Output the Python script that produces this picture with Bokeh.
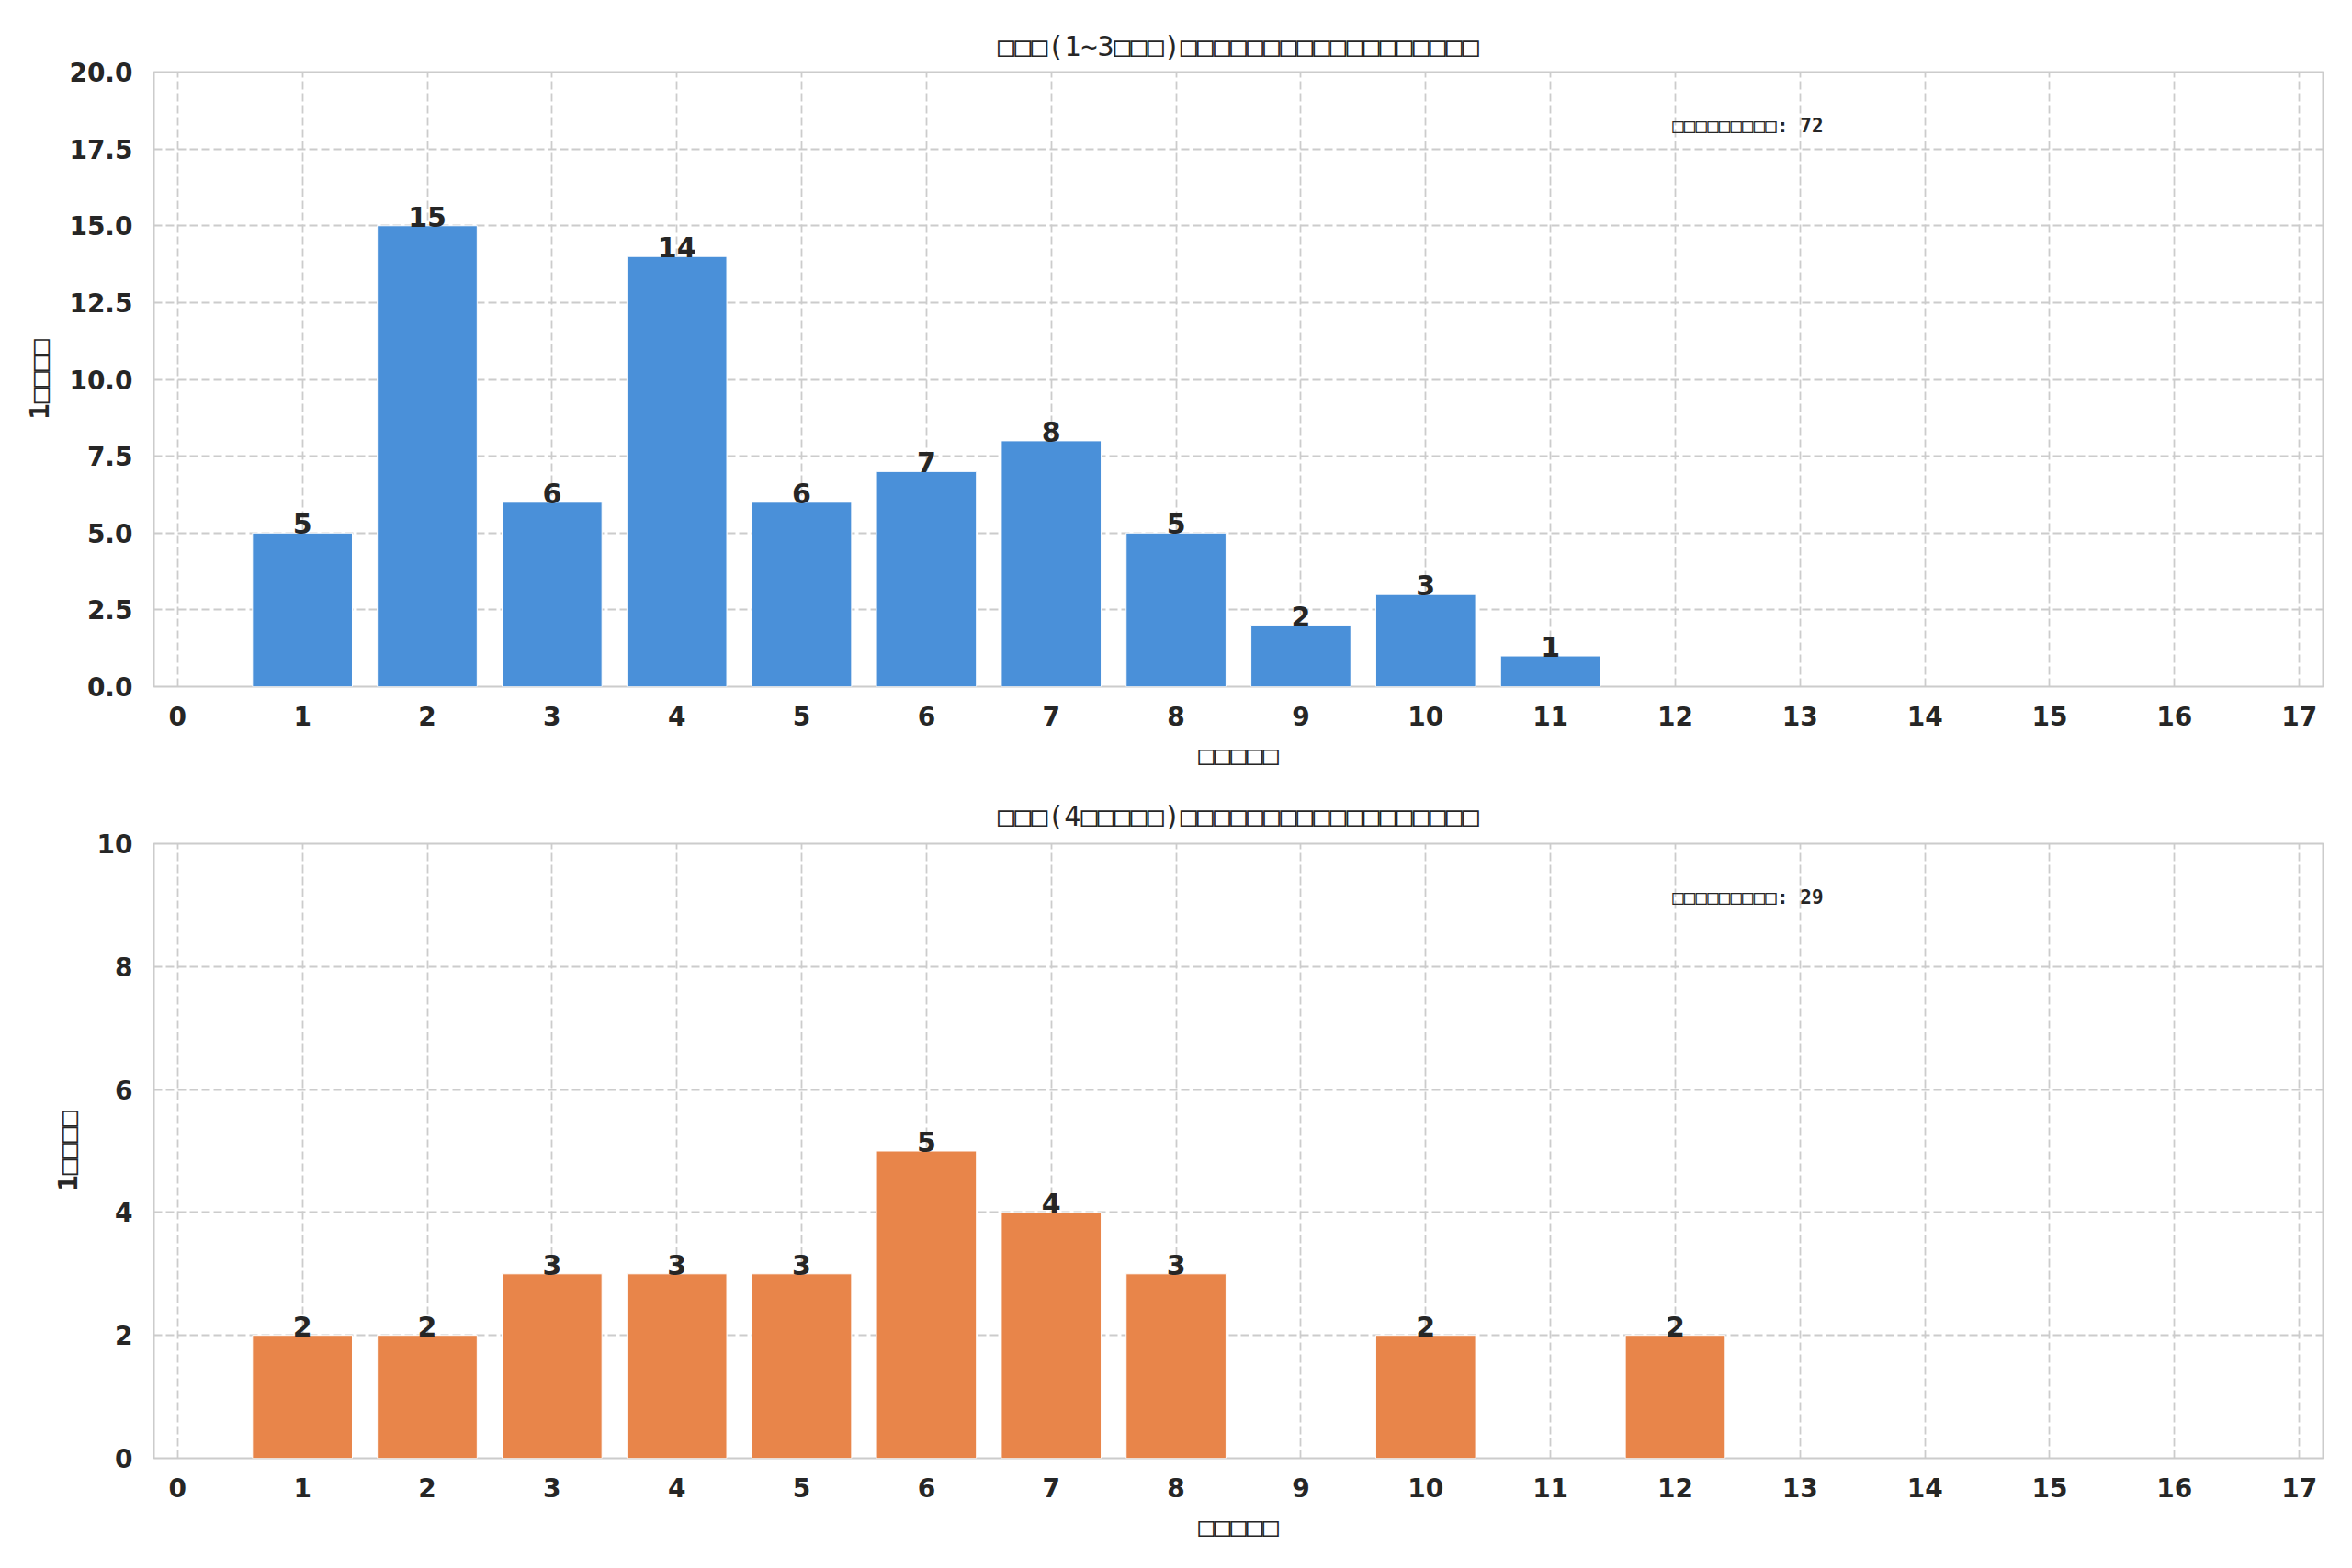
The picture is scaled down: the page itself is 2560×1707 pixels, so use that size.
from bokeh.plotting import figure
from bokeh.layouts import column
from bokeh.models import Range1d, FixedTicker, NumeralTickFormatter, Label, ColumnDataSource
from bokeh.core.properties import value
from bokeh.embed import file_html
from bokeh.resources import INLINE

# ---- data ----
x_ticks = list(range(0, 18))

early_x = [1, 2, 3, 4, 5, 6, 7, 8, 9, 10, 11]
early_counts = [5, 15, 6, 14, 6, 7, 8, 5, 2, 3, 1]
early_yticks = [0, 2.5, 5, 7.5, 10, 12.5, 15, 17.5, 20]
early_title = "□□□(1~3□□□)□□□□□□□□□□□□□□□□□□"

late_x = [1, 2, 3, 4, 5, 6, 7, 8, 10, 12]
late_counts = [2, 2, 3, 3, 3, 5, 4, 3, 2, 2]
late_yticks = [0, 2, 4, 6, 8, 10]
late_title = "□□□(4□□□□□)□□□□□□□□□□□□□□□□□□"

x_label = "□□□□□"
y_label = "1□□□□"
total_label = "□□□□□□□□□: "

TEXT = "#262626"
GRID = "#cccccc"
XMIN, XMAX = -0.19, 17.19
BOX_FONT = "DejaVu Sans Mono"


def make_panel(xs, counts, yticks, ymax, title, color, yfmt, top_border, bottom_border, title_standoff):
    p = figure(width=2552, height=top_border + 669 + bottom_border,
               x_range=Range1d(XMIN, XMAX), y_range=Range1d(0, ymax),
               output_backend="svg", toolbar_location=None,
               min_border_left=167, min_border_right=24,
               min_border_top=top_border, min_border_bottom=bottom_border)
    p.background_fill_color = "white"
    p.border_fill_color = "white"
    p.outline_line_color = GRID
    p.outline_line_width = 2

    p.title.text = title
    p.title.align = "center"
    p.title.text_font = BOX_FONT
    p.title.text_font_size = "30px"
    p.title.text_font_style = "normal"
    p.title.text_color = TEXT
    p.title.standoff = title_standoff

    p.xaxis.ticker = FixedTicker(ticks=x_ticks)
    p.yaxis.ticker = FixedTicker(ticks=yticks)
    p.yaxis.formatter = NumeralTickFormatter(format=yfmt)

    for ax in (p.xaxis, p.yaxis):
        ax.axis_line_color = None
        ax.major_tick_line_color = None
        ax.minor_tick_line_color = None
        ax.major_tick_out = 0
        ax.major_tick_in = 0
        ax.minor_tick_out = 0
        ax.major_label_text_font = "DejaVu Sans"
        ax.major_label_text_font_style = "bold"
        ax.major_label_text_font_size = "28px"
        ax.major_label_text_color = TEXT
        ax.axis_label_text_font = BOX_FONT
        ax.axis_label_text_font_style = "bold"
        ax.axis_label_text_font_size = "29px"
        ax.axis_label_text_color = TEXT
        ax.axis_label_standoff = 12
    p.xaxis.major_label_standoff = 21
    p.yaxis.major_label_standoff = 23
    p.xaxis.axis_label = x_label
    p.yaxis.axis_label = y_label

    p.xgrid.ticker = FixedTicker(ticks=x_ticks)
    p.ygrid.ticker = FixedTicker(ticks=yticks)
    for g in (p.xgrid, p.ygrid):
        g.grid_line_color = GRID
        g.grid_line_width = 1.8
        g.grid_line_dash = "9 4"

    src = ColumnDataSource(data=dict(x=xs, top=counts, label=[str(c) for c in counts]))
    p.vbar(x="x", top="top", width=0.8, bottom=0, source=src,
           fill_color=color, line_color="white", line_width=1)
    p.text(x="x", y="top", text="label", source=src,
           text_align="center", text_baseline="middle", y_offset=-10,
           text_font=value("DejaVu Sans"), text_font_style="bold",
           text_font_size=value("30px"), text_color=TEXT)

    p.add_layout(Label(x=XMIN + 0.7 * (XMAX - XMIN), y=0.912 * ymax,
                       x_units="data", y_units="data",
                       text=total_label + str(sum(counts)),
                       text_align="left", text_baseline="middle",
                       text_font=BOX_FONT, text_font_style="bold",
                       text_font_size="21px", text_color=TEXT))
    return p


p1 = make_panel(early_x, early_counts, early_yticks, 20, early_title, "#4a90d9", "0.0", 78, 101, 21)
p2 = make_panel(late_x, late_counts, late_yticks, 10, late_title, "#e8854a", "0", 70, 110, 25)

layout = column(p1, p2, spacing=0)
open("out.html", "w").write(file_html(layout, INLINE))
